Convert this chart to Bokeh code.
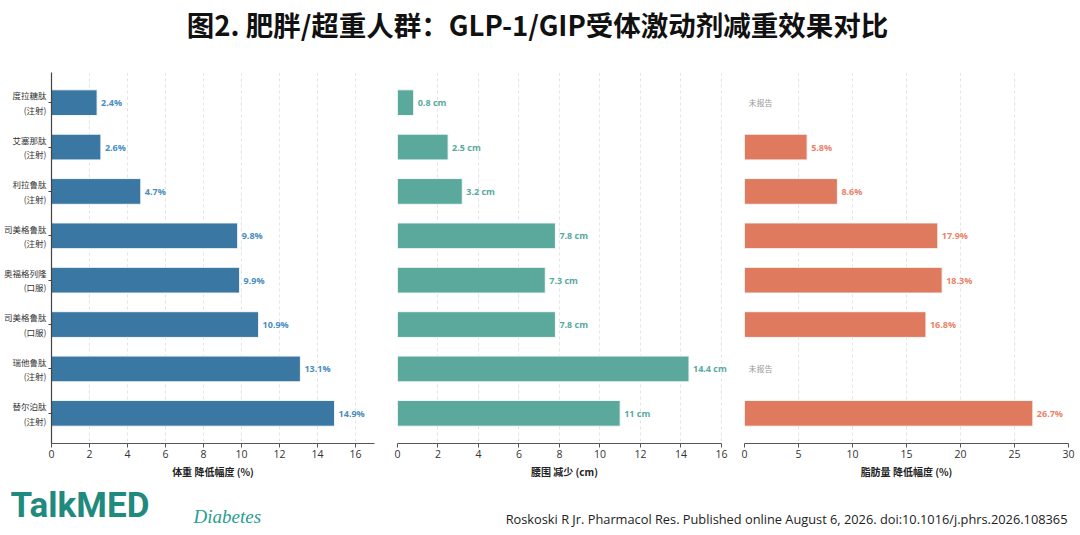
from bokeh.plotting import figure
from bokeh.models import ColumnDataSource, Range1d, FixedTicker, Label, LabelSet
from bokeh.layouts import column, row
from bokeh.embed import file_html
from bokeh.resources import INLINE
from bokeh.core.properties import value

# ---------------- data ----------------
drugs = ["度拉糖肽\n(注射)", "艾塞那肽\n(注射)", "利拉鲁肽\n(注射)", "司美格鲁肽\n(注射)",
         "奥福格列隆\n(口服)", "司美格鲁肽\n(口服)", "瑞他鲁肽\n(注射)", "替尔泊肽\n(注射)"]
weight_pct = [2.4, 2.6, 4.7, 9.8, 9.9, 10.9, 13.1, 14.9]
waist_cm = [0.8, 2.5, 3.2, 7.8, 7.3, 7.8, 14.4, 11.0]
fat_pct = [None, 5.8, 8.6, 17.9, 18.3, 16.8, None, 26.7]
weight_ticks = [0, 2, 4, 6, 8, 10, 12, 14, 16]
waist_ticks = [0, 2, 4, 6, 8, 10, 12, 14, 16]
fat_ticks = [0, 5, 10, 15, 20, 25, 30]
title_text = "图2. 肥胖/超重人群：GLP-1/GIP受体激动剂减重效果对比"
citation = "Roskoski R Jr. Pharmacol Res. Published online August 6, 2026. doi:10.1016/j.phrs.2026.108365"
missing_text = "未报告"

CJK = "Noto Sans CJK SC"
LAT = "Open Sans"


def panel(vals, unit, xmax, axis_max, ticks, bar_color, text_color, xlabel,
          width, b_left, b_right, show_y):
    p = figure(width=width, height=432,
               x_range=Range1d(0, xmax), y_range=Range1d(7.68, -0.68),
               output_backend="svg", toolbar_location=None,
               min_border_left=b_left, min_border_right=b_right,
               min_border_top=22, min_border_bottom=39)
    p.outline_line_color = None
    p.background_fill_color = "white"
    p.border_fill_color = "white"

    ys, xs, labs, my = [], [], [], []
    for i, v in enumerate(vals):
        if v is None:
            my.append(i)
        else:
            ys.append(i)
            xs.append(v)
            labs.append(f"{v:g}{unit}")
    src = ColumnDataSource(dict(y=ys, x=xs, lab=labs))
    p.hbar(y="y", left=0, right="x", height=0.58, source=src,
           fill_color=bar_color, fill_alpha=1.0,
           line_color="#f4f8f8", line_width=1)
    p.add_layout(LabelSet(x="x", y="y", text="lab", source=src, x_offset=4,
                          text_baseline="middle", text_align="left",
                          text_font=value(LAT), text_font_style="bold",
                          text_font_size="9px", text_color=text_color))
    if my:
        msrc = ColumnDataSource(dict(y=my, x=[0] * len(my), lab=[missing_text] * len(my)))
        p.add_layout(LabelSet(x="x", y="y", text="lab", source=msrc, x_offset=4,
                              text_baseline="middle", text_align="left",
                              text_font=value(CJK), text_font_size="8px",
                              text_color="#9a9a9a"))

    p.ygrid.visible = False
    p.xgrid.grid_line_color = "#e3e3e3"
    p.xgrid.grid_line_dash = "3 3"
    p.xgrid.ticker = FixedTicker(ticks=ticks)

    xa = p.xaxis[0]
    xa.bounds = (0, axis_max)
    xa.ticker = FixedTicker(ticks=ticks)
    xa.axis_label = xlabel
    xa.axis_label_text_font = CJK
    xa.axis_label_text_font_style = "bold"
    xa.axis_label_text_font_size = "10px"
    xa.axis_label_text_color = "#222"
    xa.axis_label_standoff = 3
    xa.major_label_text_font = LAT
    xa.major_label_text_font_size = "10.5px"
    xa.major_label_text_color = "#333"
    xa.major_label_standoff = 2
    xa.major_tick_out = 4
    xa.major_tick_in = 0
    xa.minor_tick_line_color = None
    xa.axis_line_color = "#555"
    xa.major_tick_line_color = "#555"

    ya = p.yaxis[0]
    if show_y:
        ya.ticker = FixedTicker(ticks=list(range(len(drugs))))
        ya.major_label_overrides = {i: d for i, d in enumerate(drugs)}
        ya.major_label_text_font = CJK
        ya.major_label_text_font_size = "8.5px"
        ya.major_label_text_color = "#333"
        ya.major_label_standoff = 2
        ya.major_tick_out = 3
        ya.major_tick_in = 0
        ya.minor_tick_line_color = None
        ya.axis_line_color = "#444"
        ya.axis_line_width = 1.2
        ya.major_tick_line_color = "#444"
    else:
        ya.visible = False
    return p


f1 = panel(weight_pct, "%", 17, 17, weight_ticks, "#3a77a2", "#4a8dbf",
           "体重 降低幅度 (%)", 385, 50, 11, True)
f2 = panel(waist_cm, " cm", 16.5, 16, waist_ticks, "#5ba89d", "#58a99e",
           "腰围 减少 (cm)", 347, 12, 1, False)
f3 = panel(fat_pct, "%", 30, 30, fat_ticks, "#e07a5e", "#ea8369",
           "脂肪量 降低幅度 (%)", 344, 12, 8, False)

W = 1076


def blank(w, h):
    p = figure(width=w, height=h, x_range=Range1d(0, w), y_range=Range1d(h, 0),
               output_backend="svg", toolbar_location=None, min_border=0)
    p.axis.visible = False
    p.grid.visible = False
    p.outline_line_color = None
    return p


top = blank(W, 50)
top.add_layout(Label(x=537, y=23, text=title_text, text_align="center",
                     text_baseline="middle", text_font=CJK, text_font_style="bold",
                     text_font_size="27.5px", text_color="#111"))

foot = blank(W, 51)
foot.add_layout(Label(x=10, y=23, text="TalkMED", text_align="left",
                      text_baseline="middle", text_font="Roboto", text_font_style="bold",
                      text_font_size="35px", text_color="#1f8a7d"))
foot.add_layout(Label(x=193, y=34, text="Diabetes", text_align="left",
                      text_baseline="middle", text_font="Liberation Serif",
                      text_font_style="italic", text_font_size="19px", text_color="#2a9d8f"))
foot.add_layout(Label(x=1067, y=36, text=citation, text_align="right",
                      text_baseline="middle", text_font=LAT,
                      text_font_size="12.8px", text_color="#222"))

layout = column(top, row(f1, f2, f3), foot)
open("out.html", "w").write(file_html(layout, INLINE))
